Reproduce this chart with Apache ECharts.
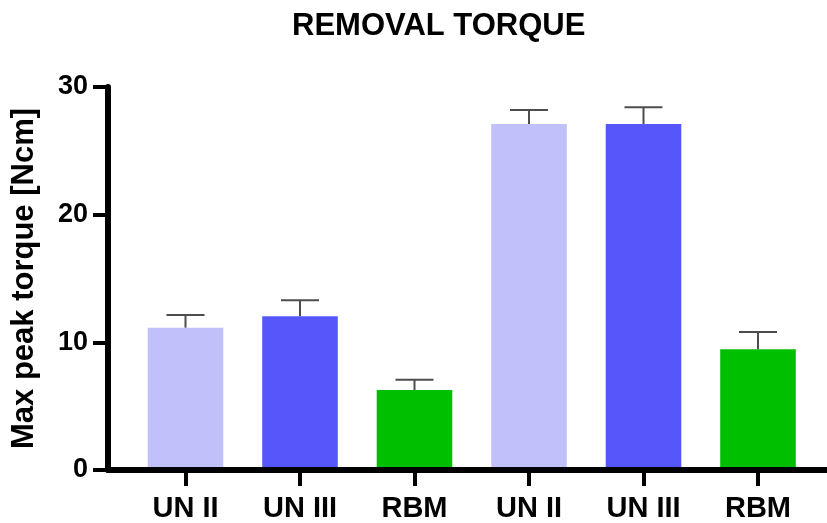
<!DOCTYPE html>
<html>
<head>
<meta charset="utf-8">
<script src="https://cdn.jsdelivr.net/npm/echarts@6/dist/echarts.min.js"></script>
<style>html,body{margin:0;padding:0;background:#fff}#c{width:827px;height:523px}</style>
</head>
<body>
<div id="c"></div>
<script>
const categories = ['UN II', 'UN III', 'RBM', 'UN II', 'UN III', 'RBM'];
const means = [11.1, 12.0, 6.2, 27.1, 27.1, 9.4];
const errors = [1.0, 1.25, 0.8, 1.1, 1.3, 1.35];
const barColors = ['#c0c0fa', '#5557fa', '#00bf00', '#c0c0fa', '#5557fa', '#00bf00'];
const yTicks = { min: 0, max: 30, interval: 10 };

const FONT = '"Liberation Sans", Arial, Helvetica, sans-serif';
const chart = echarts.init(document.getElementById('c'), null, { renderer: 'canvas' });

chart.setOption({
  animation: false,
  backgroundColor: '#fff',
  title: {
    text: 'REMOVAL TORQUE',
    left: 287, top: 6,
    textStyle: { fontFamily: FONT, fontWeight: 'bold', fontSize: 31, color: '#000' }
  },
  grid: [
    { left: 108, right: 0, top: 87, bottom: 53 },
    { left: 128.25, right: 11.75, top: 87, bottom: 53 }
  ],
  xAxis: [
    { gridIndex: 0, type: 'category', data: [''], z: 5,
      axisLine: { lineStyle: { color: '#000', width: 6 } },
      axisTick: { show: false }, axisLabel: { show: false } },
    { gridIndex: 1, type: 'category', data: categories, z: 5,
      axisLine: { show: false },
      axisTick: { show: true, alignWithLabel: true, length: 17, lineStyle: { color: '#000', width: 4 } },
      axisLabel: { color: '#000', fontFamily: FONT, fontWeight: 'bold', fontSize: 29, margin: 25 } }
  ],
  yAxis: [
    { gridIndex: 0, type: 'value', min: yTicks.min, max: yTicks.max, interval: yTicks.interval, z: 5,
      name: 'Max peak torque [Ncm]', nameLocation: 'middle', nameGap: 68,
      nameTextStyle: { color: '#000', fontFamily: FONT, fontWeight: 'bold', fontSize: 31 },
      axisLine: { show: true, lineStyle: { color: '#000', width: 6 } },
      axisTick: { show: true, length: 15, lineStyle: { color: '#000', width: 4 } },
      axisLabel: { color: '#000', fontFamily: FONT, fontWeight: 'bold', fontSize: 27, margin: 20 },
      splitLine: { show: false } },
    { gridIndex: 1, type: 'value', min: yTicks.min, max: yTicks.max, interval: yTicks.interval,
      show: false, splitLine: { show: false } }
  ],
  series: [
    { type: 'bar', xAxisIndex: 1, yAxisIndex: 1, barWidth: '66%',
      data: means.map((v, i) => ({ value: v, itemStyle: { color: barColors[i] } })), z: 2 },
    { type: 'custom', xAxisIndex: 1, yAxisIndex: 1, z: 3,
      data: means.map((v, i) => [i, v, errors[i]]),
      renderItem: function (params, api) {
        const x = api.value(0), y = api.value(1), e = api.value(2);
        const p0 = api.coord([x, y]);
        const p1 = api.coord([x, y + e]);
        const half = api.size([1, 0])[0] * 0.166;
        const st = { stroke: '#4d4d4d', lineWidth: 2 };
        return { type: 'group', children: [
          { type: 'line', shape: { x1: p0[0], y1: p0[1], x2: p1[0], y2: p1[1] }, style: st },
          { type: 'line', shape: { x1: p1[0] - half, y1: p1[1], x2: p1[0] + half, y2: p1[1] }, style: st }
        ] };
      } }
  ]
});
</script>
</body>
</html>
